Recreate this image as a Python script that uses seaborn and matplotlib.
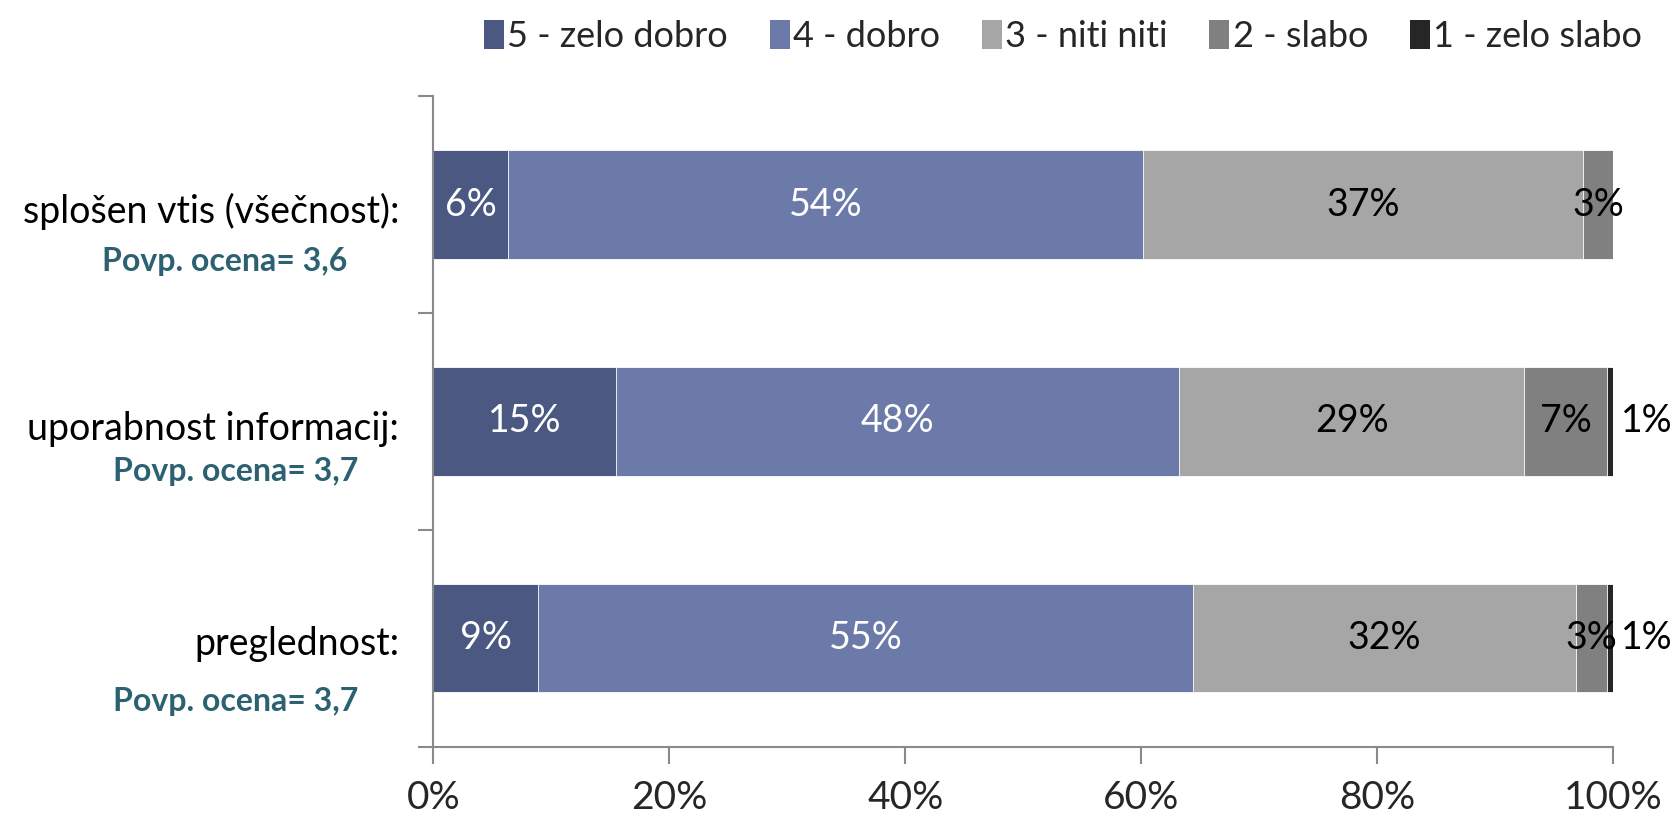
import numpy as np
import pandas as pd
import matplotlib
matplotlib.use('Agg')
import matplotlib.pyplot as plt
import seaborn as sns
from matplotlib.patches import Patch
from matplotlib.ticker import PercentFormatter

categories = ['splošen vtis (všečnost):', 'uporabnost informacij:', 'preglednost:']
averages = ['Povp. ocena= 3,6', 'Povp. ocena= 3,7', 'Povp. ocena= 3,7']
levels = ['5 - zelo dobro', '4 - dobro', '3 - niti niti', '2 - slabo', '1 - zelo slabo']

# shares (%) per level, one list per category
v5 = [6.3, 15.5, 8.9]
v4 = [53.9, 47.7, 55.5]
v3 = [37.3, 29.3, 32.5]
v2 = [2.5, 7.0, 2.6]
v1 = [0.0, 0.5, 0.5]
labels5 = ['6%', '15%', '9%']
labels4 = ['54%', '48%', '55%']
labels3 = ['37%', '29%', '32%']
labels2 = ['3%', '7%', '3%']
labels1 = ['', '1%', '1%']

colors = ['#4b5882', '#6b7aa8', '#a6a6a6', '#808080', '#262626']
text_colors = ['white', 'white', 'black', 'black', 'black']

sns.set_style('white')
plt.rcParams['font.family'] = ['Lato', 'DejaVu Sans']

df = pd.DataFrame({'kategorija': categories, levels[0]: v5, levels[1]: v4,
                   levels[2]: v3, levels[3]: v2, levels[4]: v1})
cum = df[levels].cumsum(axis=1)

fig = plt.figure(figsize=(16.8, 8.16), dpi=100)
ax = fig.add_axes([0.258, 0.085, 0.702, 0.797])

# overlay cumulative bars, longest first, to get a stacked bar
for lev, col in reversed(list(zip(levels, colors))):
    sns.barplot(data=cum.assign(kategorija=categories), x=lev, y='kategorija',
                orient='h', color=col, width=0.5, ax=ax, saturation=1,
                edgecolor='white', linewidth=0.6)

all_labels = [labels5, labels4, labels3, labels2, labels1]
vals = [v5, v4, v3, v2, v1]
for k, lev in enumerate(levels):
    for i in range(len(categories)):
        if not all_labels[k][i]:
            continue
        if k == 4:
            ax.text(cum[lev][i] + 0.7, i, all_labels[k][i], ha='left', va='center',
                    fontsize=27, color='black')
        else:
            ax.text(cum[lev][i] - vals[k][i] / 2, i, all_labels[k][i], ha='center',
                    va='center', fontsize=27, color=text_colors[k])

ax.set_xlim(0, 100)
ax.set_ylim(2.5, -0.5)
ax.set_xticks(np.arange(0, 101, 20))
ax.xaxis.set_major_formatter(PercentFormatter(decimals=0))
ax.set_yticks([-0.5, 0.5, 1.5, 2.5])
ax.set_yticklabels([])
ax.set_xlabel('')
ax.set_ylabel('')
ax.tick_params(axis='x', direction='out', length=12, width=1.5, color='#8a8a8a',
               labelsize=28, pad=12, bottom=True)
ax.tick_params(axis='y', direction='out', length=11, width=1.5, color='#8a8a8a', left=True)
for s in ['top', 'right']:
    ax.spines[s].set_visible(False)
for s in ['left', 'bottom']:
    ax.spines[s].set_color('#8a8a8a')
    ax.spines[s].set_linewidth(1.5)

trans = ax.get_yaxis_transform()
name_off = [0.03, 0.035, 0.025]
avg_off = [0.26, 0.23, 0.29]
avg_x = [-0.073, -0.064, -0.064]
for i in range(len(categories)):
    ax.text(-0.029, i + name_off[i], categories[i], transform=trans, ha='right',
            va='center', fontsize=27, color='black')
    ax.text(avg_x[i], i + avg_off[i], averages[i], transform=trans, ha='right',
            va='center', fontsize=23, color='#2b6170', fontweight='bold')

handles = [Patch(facecolor=c, edgecolor='none') for c in colors]
fig.legend(handles, levels, loc='upper right', bbox_to_anchor=(0.997, 1.015), ncol=5,
           frameon=False, fontsize=26, handlelength=0.55, handleheight=0.85,
           handletextpad=0.1, columnspacing=1.15)

fig.savefig('out.png', dpi=100)
